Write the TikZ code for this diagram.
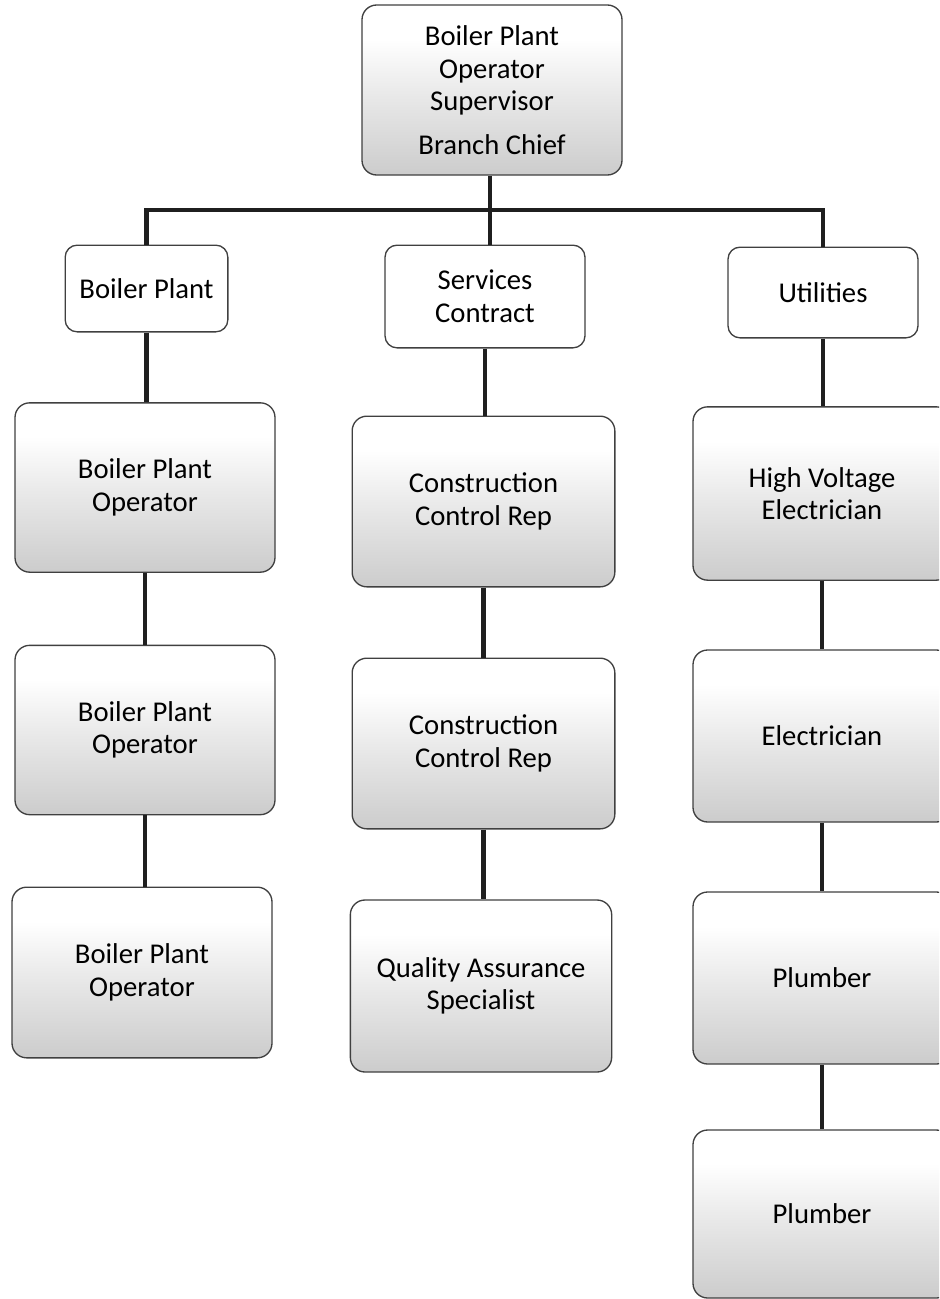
\documentclass[tikz,border=0pt]{standalone}
\usepackage{fontspec}
\setmainfont{Carlito}
\pgfdeclareverticalshading{boxshade}{100bp}{color(0bp)=(black!26); color(25bp)=(black!20); color(50bp)=(black!8); color(65bp)=(white); color(100bp)=(white)}
\tikzset{
  box/.style={draw=black!75, line width=1pt, rounded corners=11pt, shading=boxshade,
    inner sep=0pt, align=center, font=\fontsize{21.5}{24.5}\selectfont},
  wbox/.style={draw=black!75, line width=1pt, rounded corners=9pt, fill=white,
    inner sep=0pt, align=center, font=\fontsize{21.5}{24.5}\selectfont},
  conn/.style={draw=black!88, line width=3.6pt},
}
\begin{document}
\begin{tikzpicture}[x=0.75pt,y=-0.75pt]
\useasboundingbox (0,0) rectangle (939,1299);
\clip (0,0) rectangle (939,1299);
% nodes
\node[box, minimum width=195pt, minimum height=127.5pt] (top) at (492,90)
  {Boiler Plant\\Operator\\Supervisor\\[8pt]Branch Chief};
\node[wbox, minimum width=122pt, minimum height=65pt] (bp) at (146.5,288.5) {Boiler Plant};
\node[wbox, minimum width=150pt, minimum height=77pt] (sc) at (485,296.5) {Services\\Contract};
\node[wbox, minimum width=142.5pt, minimum height=68pt] (ut) at (823,292.5) {Utilities};
\node[box, minimum width=195pt, minimum height=127pt] (bpo1) at (145,487.5) {Boiler Plant\\Operator};
\node[box, minimum width=195pt, minimum height=127pt] (bpo2) at (145,730) {Boiler Plant\\Operator};
\node[box, minimum width=195pt, minimum height=128pt] (bpo3) at (142,972.5) {Boiler Plant\\Operator};
\node[box, minimum width=197pt, minimum height=128pt] (ccr1) at (483.5,501.5) {Construction\\Control Rep};
\node[box, minimum width=197pt, minimum height=128pt] (ccr2) at (483.5,743.5) {Construction\\Control Rep};
\node[box, minimum width=196pt, minimum height=129pt] (qa) at (481,986) {Quality Assurance\\Specialist};
\node[box, minimum width=193.5pt, minimum height=130pt] (hve) at (822,493.5) {High Voltage\\Electrician};
\node[box, minimum width=193.5pt, minimum height=129pt] (el) at (822,736) {Electrician};
\node[box, minimum width=193.5pt, minimum height=129pt] (pl1) at (822,978) {Plumber};
\node[box, minimum width=193.5pt, minimum height=126pt] (pl2) at (822,1214) {Plumber};
% connectors
\coordinate (barmid) at (490,210);
\draw[conn] (top.south -| barmid) -- (barmid);
\draw[conn] (bp.north) |- (barmid);
\draw[conn] (ut.north) |- (barmid);
\draw[conn] (barmid) -- (barmid |- sc.north);
\draw[conn] (bp.south) -- (bp.south |- bpo1.north);
\draw[conn] (bpo1.south) -- (bpo2.north);
\draw[conn] (bpo2.south) -- (bpo2.south |- bpo3.north);
\draw[conn] (sc.south) -- (sc.south |- ccr1.north);
\draw[conn] (ccr1.south) -- (ccr2.north);
\draw[conn] (ccr2.south) -- (ccr2.south |- qa.north);
\draw[conn] (ut.south) -- (ut.south |- hve.north);
\draw[conn] (hve.south) -- (el.north);
\draw[conn] (el.south) -- (pl1.north);
\draw[conn] (pl1.south) -- (pl2.north);
\end{tikzpicture}
\end{document}
